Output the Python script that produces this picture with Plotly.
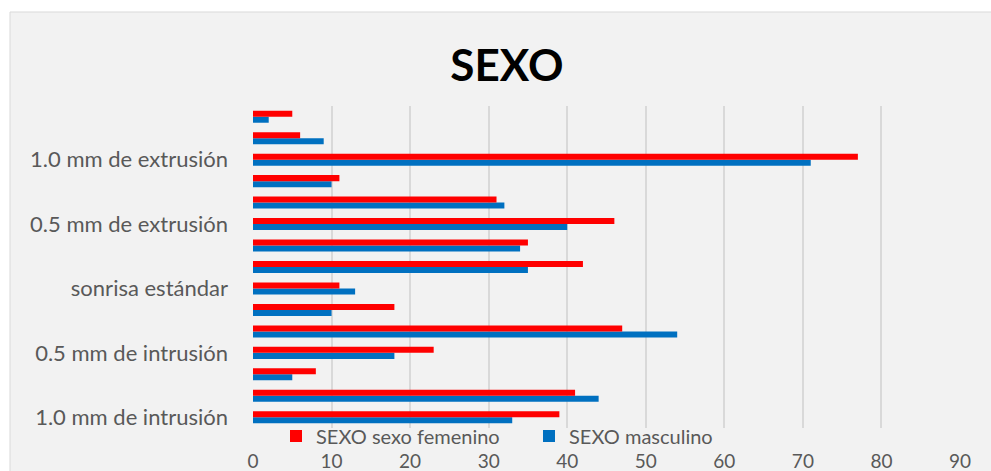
import plotly.graph_objects as go

categories = [
    "1.0 mm de intrusión", "cat_2", "cat_3",
    "0.5 mm de intrusión", "cat_5", "cat_6",
    "sonrisa estándar", "cat_8", "cat_9",
    "0.5 mm de extrusión", "cat_11", "cat_12",
    "1.0 mm de extrusión", "cat_14", "cat_15",
]
shown_labels = ["1.0 mm de intrusión", "0.5 mm de intrusión", "sonrisa estándar",
                "0.5 mm de extrusión", "1.0 mm de extrusión"]
femenino = [39, 41, 8, 23, 47, 18, 11, 42, 35, 46, 31, 11, 77, 6, 5]
masculino = [33, 44, 5, 18, 54, 10, 13, 35, 34, 40, 32, 10, 71, 9, 2]
x_ticks = [0, 10, 20, 30, 40, 50, 60, 70, 80, 90]

FONT = "Lato"
GREY = "#595959"

fig = go.Figure()
fig.add_trace(go.Bar(y=categories, x=masculino, orientation="h", name="SEXO masculino",
                     marker=dict(color="#0070C0", line=dict(width=0)), legendrank=2))
fig.add_trace(go.Bar(y=categories, x=femenino, orientation="h", name="SEXO sexo femenino",
                     marker=dict(color="#FF0000", line=dict(width=0)), legendrank=1))

W, H = 991, 471
# plot area in reference-image pixels
PX0, PX1, PY0, PY1 = 253, 960, 106, 428
L, R = PX0, W - PX1
T, B = PY0, H - PY1
pw, ph = PX1 - PX0, PY1 - PY0


def px_x(p):
    return (p - PX0) / pw


def px_y(p):
    return (PY1 - p) / ph


fig.add_shape(type="rect", xref="paper", yref="paper", layer="below",
              x0=px_x(10), x1=px_x(1010), y0=px_y(500), y1=px_y(12),
              fillcolor="#f2f2f2", line=dict(color="#d9d9d9", width=1))

fig.update_layout(
    width=W, height=H,
    margin=dict(l=L, r=R, t=T, b=B, autoexpand=False),
    paper_bgcolor="white", plot_bgcolor="rgba(0,0,0,0)",
    barmode="group", bargap=0.44, bargroupgap=0,
    font=dict(family=FONT, color=GREY),
    title=dict(text="<b>SEXO</b>", x=507 / W, xanchor="center",
               y=1 - 66 / H, yanchor="middle",
               font=dict(family=FONT, size=44, color="black")),
    xaxis=dict(range=[0, 90], tickvals=x_ticks, showgrid=True, gridcolor="#d9d9d9", gridwidth=1.5,
               zeroline=False, showline=False, ticks="", ticklabelstandoff=20,
               tickfont=dict(family=FONT, size=19, color=GREY)),
    yaxis=dict(type="category", categoryorder="array", categoryarray=categories,
               tickvals=shown_labels, ticktext=shown_labels, showgrid=False,
               showline=False, ticks="", ticklabelstandoff=24,
               tickfont=dict(family=FONT, size=22, color=GREY)),
    legend=dict(orientation="h", xref="container", yref="container",
                x=276 / W, xanchor="left",
                y=1 - 436 / H, yanchor="middle",
                bgcolor="rgba(0,0,0,0)", font=dict(family=FONT, size=20, color=GREY),
                entrywidth=208, traceorder="normal"),
    showlegend=True,
)

fig.write_html("out.html", config={"displayModeBar": False},
               post_script="document.body.style.margin='0';document.body.style.overflow='hidden';")
